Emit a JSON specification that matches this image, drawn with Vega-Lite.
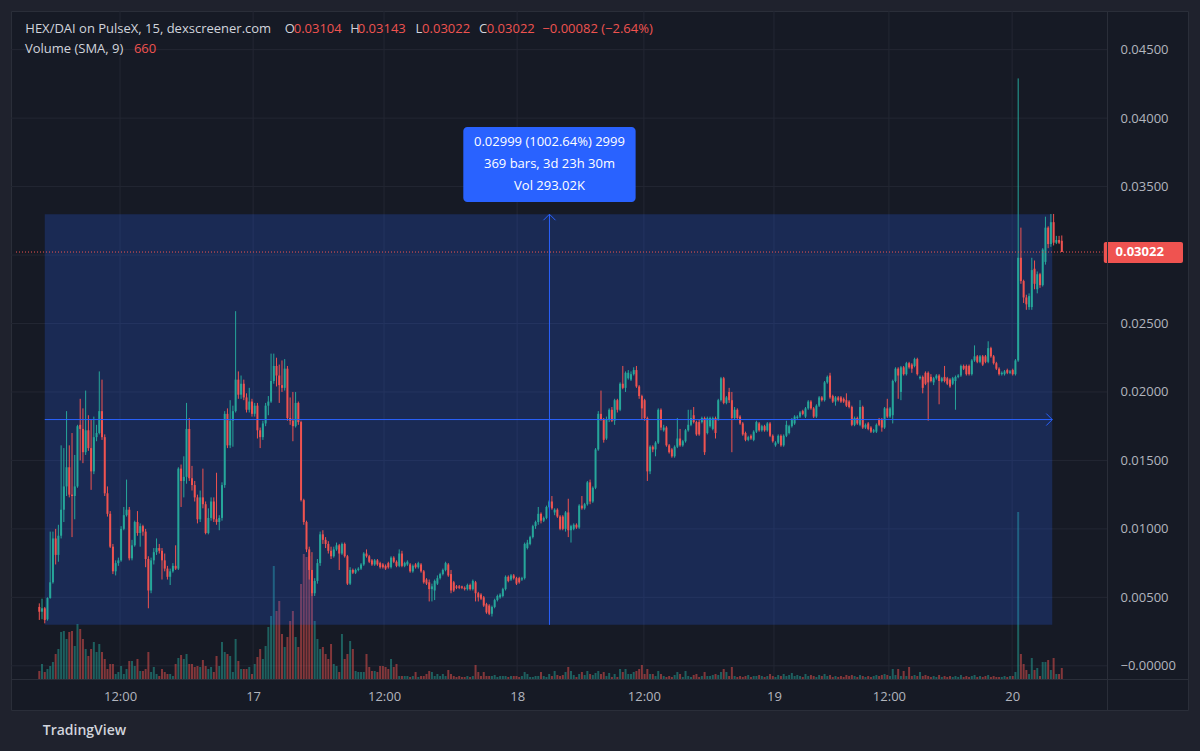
{
"$schema": "https://vega.github.io/schema/vega-lite/v6.json",
"width": 1177, "height": 699,
"autosize": {"type": "none"},
"padding": {"left": 11, "top": 11, "right": 12, "bottom": 41},
"background": "#1f222d",
"config": {"font": "Open Sans", "view": {"fill": "#161a25", "stroke": "#2a2e39", "strokeWidth": 1}, "text": {"font": "Open Sans"}},
"datasets": {"bars": [
{"i":0,"o":0.0043,"h":0.00456,"l":0.00335,"c":0.00395,"v":480},
{"i":1,"o":0.00395,"h":0.0049,"l":0.0034,"c":0.0042,"v":900},
{"i":2,"o":0.0042,"h":0.0043,"l":0.0031,"c":0.00335,"v":420},
{"i":3,"o":0.0034,"h":0.005,"l":0.0033,"c":0.00495,"v":600},
{"i":4,"o":0.00495,"h":0.0098,"l":0.0049,"c":0.0061,"v":780},
{"i":5,"o":0.0061,"h":0.0098,"l":0.006,"c":0.0093,"v":1020},
{"i":6,"o":0.0093,"h":0.01,"l":0.0074,"c":0.0081,"v":1500},
{"i":7,"o":0.0081,"h":0.0103,"l":0.0076,"c":0.0095,"v":1800},
{"i":8,"o":0.0095,"h":0.0161,"l":0.0093,"c":0.0114,"v":2820},
{"i":9,"o":0.0114,"h":0.0159,"l":0.0105,"c":0.0131,"v":2880},
{"i":10,"o":0.0131,"h":0.0186,"l":0.0124,"c":0.0145,"v":2400},
{"i":11,"o":0.0145,"h":0.0161,"l":0.0123,"c":0.0125,"v":2820},
{"i":12,"o":0.0125,"h":0.017,"l":0.0094,"c":0.0124,"v":2880},
{"i":13,"o":0.0124,"h":0.0154,"l":0.0107,"c":0.0131,"v":1980},
{"i":14,"o":0.0131,"h":0.0176,"l":0.013,"c":0.0175,"v":3300},
{"i":15,"o":0.0176,"h":0.0195,"l":0.015,"c":0.0173,"v":3000},
{"i":16,"o":0.0173,"h":0.0188,"l":0.0148,"c":0.0156,"v":2400},
{"i":17,"o":0.0156,"h":0.0201,"l":0.0154,"c":0.0172,"v":1800},
{"i":18,"o":0.0172,"h":0.0183,"l":0.0157,"c":0.0159,"v":1380},
{"i":19,"o":0.0159,"h":0.018,"l":0.01285,"c":0.0142,"v":1800},
{"i":20,"o":0.0142,"h":0.0182,"l":0.014,"c":0.0167,"v":2220},
{"i":21,"o":0.0167,"h":0.0176,"l":0.0164,"c":0.017,"v":1620},
{"i":22,"o":0.017,"h":0.0215,"l":0.0169,"c":0.0186,"v":2100},
{"i":23,"o":0.0186,"h":0.0209,"l":0.0165,"c":0.0167,"v":1620},
{"i":24,"o":0.0167,"h":0.0169,"l":0.0124,"c":0.0126,"v":1200},
{"i":25,"o":0.0126,"h":0.0131,"l":0.0109,"c":0.0111,"v":600},
{"i":26,"o":0.0111,"h":0.0113,"l":0.0086,"c":0.0087,"v":900},
{"i":27,"o":0.0087,"h":0.0089,"l":0.0067,"c":0.0069,"v":900},
{"i":28,"o":0.0069,"h":0.0077,"l":0.0066,"c":0.0075,"v":300},
{"i":29,"o":0.0075,"h":0.0079,"l":0.0073,"c":0.0077,"v":420},
{"i":30,"o":0.0077,"h":0.0102,"l":0.0076,"c":0.01,"v":780},
{"i":31,"o":0.01,"h":0.0116,"l":0.0099,"c":0.011,"v":300},
{"i":32,"o":0.011,"h":0.0136,"l":0.0109,"c":0.0114,"v":600},
{"i":33,"o":0.0114,"h":0.0116,"l":0.0077,"c":0.00785,"v":1080},
{"i":34,"o":0.00785,"h":0.0092,"l":0.0077,"c":0.0088,"v":1080},
{"i":35,"o":0.0088,"h":0.0106,"l":0.0087,"c":0.0105,"v":780},
{"i":36,"o":0.0105,"h":0.0113,"l":0.0095,"c":0.0097,"v":1200},
{"i":37,"o":0.0097,"h":0.0104,"l":0.0087,"c":0.0102,"v":480},
{"i":38,"o":0.0102,"h":0.0103,"l":0.0095,"c":0.0098,"v":480},
{"i":39,"o":0.0098,"h":0.01,"l":0.0072,"c":0.0078,"v":600},
{"i":40,"o":0.0078,"h":0.008,"l":0.0042,"c":0.0055,"v":1620},
{"i":41,"o":0.0055,"h":0.0079,"l":0.0053,"c":0.0077,"v":420},
{"i":42,"o":0.0077,"h":0.0086,"l":0.0074,"c":0.0083,"v":720},
{"i":43,"o":0.0083,"h":0.0093,"l":0.0081,"c":0.0086,"v":300},
{"i":44,"o":0.0086,"h":0.0089,"l":0.0082,"c":0.0084,"v":180},
{"i":45,"o":0.0084,"h":0.0086,"l":0.0063,"c":0.0077,"v":600},
{"i":46,"o":0.0077,"h":0.0082,"l":0.0069,"c":0.0071,"v":420},
{"i":47,"o":0.0071,"h":0.0073,"l":0.0063,"c":0.0065,"v":300},
{"i":48,"o":0.0065,"h":0.0071,"l":0.0059,"c":0.0069,"v":300},
{"i":49,"o":0.0069,"h":0.0075,"l":0.0068,"c":0.0073,"v":180},
{"i":50,"o":0.0073,"h":0.0088,"l":0.007,"c":0.0071,"v":900},
{"i":51,"o":0.0071,"h":0.0145,"l":0.007,"c":0.0144,"v":1260},
{"i":52,"o":0.0144,"h":0.0147,"l":0.0116,"c":0.0135,"v":1440},
{"i":53,"o":0.0135,"h":0.0153,"l":0.0123,"c":0.0138,"v":1200},
{"i":54,"o":0.0138,"h":0.0192,"l":0.0133,"c":0.0173,"v":1500},
{"i":55,"o":0.0173,"h":0.0181,"l":0.0135,"c":0.0137,"v":900},
{"i":56,"o":0.0137,"h":0.0146,"l":0.0128,"c":0.0132,"v":900},
{"i":57,"o":0.0132,"h":0.0135,"l":0.012,"c":0.0123,"v":720},
{"i":58,"o":0.0123,"h":0.0125,"l":0.0104,"c":0.0107,"v":780},
{"i":59,"o":0.0107,"h":0.0128,"l":0.0105,"c":0.0123,"v":720},
{"i":60,"o":0.0123,"h":0.0144,"l":0.0115,"c":0.0118,"v":1140},
{"i":61,"o":0.0118,"h":0.012,"l":0.0096,"c":0.0097,"v":780},
{"i":62,"o":0.0097,"h":0.0115,"l":0.0096,"c":0.0108,"v":600},
{"i":63,"o":0.0108,"h":0.0123,"l":0.0106,"c":0.012,"v":720},
{"i":64,"o":0.012,"h":0.0123,"l":0.0105,"c":0.0107,"v":420},
{"i":65,"o":0.0107,"h":0.0141,"l":0.0103,"c":0.0105,"v":1380},
{"i":66,"o":0.0105,"h":0.011,"l":0.0099,"c":0.0108,"v":780},
{"i":67,"o":0.0108,"h":0.0134,"l":0.0106,"c":0.0132,"v":2220},
{"i":68,"o":0.0132,"h":0.0186,"l":0.013,"c":0.0184,"v":1620},
{"i":69,"o":0.0184,"h":0.0188,"l":0.0159,"c":0.0161,"v":1500},
{"i":70,"o":0.0161,"h":0.0194,"l":0.0159,"c":0.0179,"v":1380},
{"i":71,"o":0.0179,"h":0.019,"l":0.016,"c":0.0186,"v":420},
{"i":72,"o":0.0186,"h":0.0259,"l":0.0185,"c":0.0209,"v":2400},
{"i":73,"o":0.0209,"h":0.0215,"l":0.0195,"c":0.0198,"v":1080},
{"i":74,"o":0.0198,"h":0.0212,"l":0.0195,"c":0.0206,"v":600},
{"i":75,"o":0.0206,"h":0.0209,"l":0.0194,"c":0.0196,"v":600},
{"i":76,"o":0.0196,"h":0.0199,"l":0.0185,"c":0.0187,"v":600},
{"i":77,"o":0.0187,"h":0.0203,"l":0.0185,"c":0.0193,"v":720},
{"i":78,"o":0.0193,"h":0.0195,"l":0.0182,"c":0.0184,"v":300},
{"i":79,"o":0.0184,"h":0.0192,"l":0.0182,"c":0.019,"v":900},
{"i":80,"o":0.019,"h":0.0192,"l":0.0166,"c":0.0172,"v":1320},
{"i":81,"o":0.0172,"h":0.0174,"l":0.0159,"c":0.0167,"v":1800},
{"i":82,"o":0.0167,"h":0.0179,"l":0.0165,"c":0.0177,"v":1200},
{"i":83,"o":0.0177,"h":0.0192,"l":0.0175,"c":0.019,"v":1980},
{"i":84,"o":0.019,"h":0.0197,"l":0.0183,"c":0.0193,"v":3120},
{"i":85,"o":0.0193,"h":0.0228,"l":0.0192,"c":0.0208,"v":3780},
{"i":86,"o":0.0208,"h":0.0228,"l":0.0206,"c":0.0219,"v":6780},
{"i":87,"o":0.0219,"h":0.0225,"l":0.0204,"c":0.0212,"v":4080},
{"i":88,"o":0.0212,"h":0.022,"l":0.0192,"c":0.0205,"v":4680},
{"i":89,"o":0.0205,"h":0.0223,"l":0.02,"c":0.0203,"v":2700},
{"i":90,"o":0.0203,"h":0.0224,"l":0.0201,"c":0.0217,"v":1920},
{"i":91,"o":0.0217,"h":0.0219,"l":0.0179,"c":0.0181,"v":2520},
{"i":92,"o":0.0181,"h":0.0196,"l":0.0176,"c":0.0179,"v":3480},
{"i":93,"o":0.0179,"h":0.02,"l":0.0164,"c":0.0175,"v":4080},
{"i":94,"o":0.0175,"h":0.02,"l":0.0174,"c":0.0192,"v":2520},
{"i":95,"o":0.0192,"h":0.0193,"l":0.0176,"c":0.0178,"v":1920},
{"i":96,"o":0.0178,"h":0.0179,"l":0.012,"c":0.0121,"v":5700},
{"i":97,"o":0.0121,"h":0.0122,"l":0.0103,"c":0.0105,"v":7500},
{"i":98,"o":0.0105,"h":0.0106,"l":0.0083,"c":0.0085,"v":7320},
{"i":99,"o":0.0085,"h":0.0087,"l":0.0063,"c":0.007,"v":7380},
{"i":100,"o":0.007,"h":0.0083,"l":0.0051,"c":0.0053,"v":5880},
{"i":101,"o":0.0053,"h":0.0064,"l":0.0051,"c":0.0062,"v":3480},
{"i":102,"o":0.0062,"h":0.0078,"l":0.006,"c":0.0075,"v":2400},
{"i":103,"o":0.0075,"h":0.0098,"l":0.0073,"c":0.0096,"v":1800},
{"i":104,"o":0.0096,"h":0.0099,"l":0.0089,"c":0.0092,"v":1920},
{"i":105,"o":0.0092,"h":0.0094,"l":0.0086,"c":0.0089,"v":1500},
{"i":106,"o":0.0089,"h":0.0091,"l":0.0082,"c":0.0084,"v":1200},
{"i":107,"o":0.0084,"h":0.0087,"l":0.0078,"c":0.008,"v":2100},
{"i":108,"o":0.008,"h":0.0087,"l":0.0079,"c":0.0085,"v":900},
{"i":109,"o":0.0085,"h":0.009,"l":0.0084,"c":0.0088,"v":780},
{"i":110,"o":0.0088,"h":0.0089,"l":0.007,"c":0.0082,"v":420},
{"i":111,"o":0.0082,"h":0.009,"l":0.0081,"c":0.0089,"v":2700},
{"i":112,"o":0.0089,"h":0.009,"l":0.0079,"c":0.008,"v":1200},
{"i":113,"o":0.008,"h":0.0081,"l":0.0059,"c":0.006,"v":1500},
{"i":114,"o":0.006,"h":0.0072,"l":0.0059,"c":0.007,"v":2280},
{"i":115,"o":0.007,"h":0.0071,"l":0.0067,"c":0.0068,"v":1800},
{"i":116,"o":0.0068,"h":0.0071,"l":0.0067,"c":0.007,"v":480},
{"i":117,"o":0.007,"h":0.0072,"l":0.0069,"c":0.0071,"v":420},
{"i":118,"o":0.0071,"h":0.0075,"l":0.007,"c":0.0074,"v":420},
{"i":119,"o":0.0074,"h":0.0083,"l":0.0073,"c":0.0082,"v":420},
{"i":120,"o":0.0082,"h":0.0085,"l":0.0079,"c":0.008,"v":1500},
{"i":121,"o":0.008,"h":0.0081,"l":0.0075,"c":0.0076,"v":720},
{"i":122,"o":0.0077,"h":0.0078,"l":0.0073,"c":0.0074,"v":480},
{"i":123,"o":0.0074,"h":0.0078,"l":0.0073,"c":0.0077,"v":480},
{"i":124,"o":0.0077,"h":0.0078,"l":0.0073,"c":0.0074,"v":420},
{"i":125,"o":0.0075,"h":0.0076,"l":0.0071,"c":0.0072,"v":780},
{"i":126,"o":0.0074,"h":0.0075,"l":0.0071,"c":0.0072,"v":780},
{"i":127,"o":0.0073,"h":0.0074,"l":0.007,"c":0.0071,"v":720},
{"i":128,"o":0.0075,"h":0.0076,"l":0.0071,"c":0.0072,"v":600},
{"i":129,"o":0.0072,"h":0.008,"l":0.0071,"c":0.0079,"v":1200},
{"i":130,"o":0.0079,"h":0.008,"l":0.0075,"c":0.0076,"v":720},
{"i":131,"o":0.0076,"h":0.0077,"l":0.0072,"c":0.0073,"v":900},
{"i":132,"o":0.0073,"h":0.0085,"l":0.0072,"c":0.0082,"v":180},
{"i":133,"o":0.0082,"h":0.0084,"l":0.0072,"c":0.0073,"v":180},
{"i":134,"o":0.0073,"h":0.0076,"l":0.0072,"c":0.0075,"v":180},
{"i":135,"o":0.0074,"h":0.0077,"l":0.0073,"c":0.0076,"v":180},
{"i":136,"o":0.0074,"h":0.0075,"l":0.0068,"c":0.0069,"v":120},
{"i":137,"o":0.0069,"h":0.0074,"l":0.0068,"c":0.0073,"v":180},
{"i":138,"o":0.0074,"h":0.0075,"l":0.0071,"c":0.0072,"v":420},
{"i":139,"o":0.0072,"h":0.0076,"l":0.0071,"c":0.0075,"v":120},
{"i":140,"o":0.0074,"h":0.0075,"l":0.0068,"c":0.0069,"v":180},
{"i":141,"o":0.0069,"h":0.007,"l":0.006,"c":0.0061,"v":180},
{"i":142,"o":0.0063,"h":0.0064,"l":0.0059,"c":0.006,"v":300},
{"i":143,"o":0.0061,"h":0.0063,"l":0.0047,"c":0.0056,"v":480},
{"i":144,"o":0.0056,"h":0.006,"l":0.0047,"c":0.0058,"v":420},
{"i":145,"o":0.0055,"h":0.0063,"l":0.0048,"c":0.0062,"v":180},
{"i":146,"o":0.006,"h":0.0066,"l":0.0059,"c":0.0064,"v":300},
{"i":147,"o":0.0064,"h":0.0068,"l":0.0063,"c":0.0067,"v":180},
{"i":148,"o":0.0067,"h":0.0071,"l":0.0066,"c":0.007,"v":300},
{"i":149,"o":0.007,"h":0.0076,"l":0.0069,"c":0.0075,"v":180},
{"i":150,"o":0.0074,"h":0.0075,"l":0.0065,"c":0.0066,"v":540},
{"i":151,"o":0.0067,"h":0.007,"l":0.0053,"c":0.0055,"v":300},
{"i":152,"o":0.0061,"h":0.0062,"l":0.0054,"c":0.0055,"v":180},
{"i":153,"o":0.0058,"h":0.0059,"l":0.0056,"c":0.0057,"v":120},
{"i":154,"o":0.0058,"h":0.0059,"l":0.0056,"c":0.0057,"v":180},
{"i":155,"o":0.0058,"h":0.00585,"l":0.0056,"c":0.0057,"v":120},
{"i":156,"o":0.0057,"h":0.0058,"l":0.0055,"c":0.0056,"v":120},
{"i":157,"o":0.0056,"h":0.006,"l":0.0055,"c":0.0059,"v":180},
{"i":158,"o":0.0059,"h":0.006,"l":0.0055,"c":0.0056,"v":120},
{"i":159,"o":0.0056,"h":0.0063,"l":0.0055,"c":0.0062,"v":180},
{"i":160,"o":0.0061,"h":0.0062,"l":0.0047,"c":0.0053,"v":840},
{"i":161,"o":0.0053,"h":0.0054,"l":0.0047,"c":0.005,"v":420},
{"i":162,"o":0.0052,"h":0.0053,"l":0.0048,"c":0.0049,"v":180},
{"i":163,"o":0.005,"h":0.0051,"l":0.0043,"c":0.0044,"v":420},
{"i":164,"o":0.0045,"h":0.0046,"l":0.0038,"c":0.0039,"v":180},
{"i":165,"o":0.0044,"h":0.0045,"l":0.0037,"c":0.0038,"v":180},
{"i":166,"o":0.0038,"h":0.0044,"l":0.0036,"c":0.0043,"v":180},
{"i":167,"o":0.0043,"h":0.0049,"l":0.0042,"c":0.0048,"v":240},
{"i":168,"o":0.0048,"h":0.0052,"l":0.0047,"c":0.0051,"v":120},
{"i":169,"o":0.005,"h":0.0053,"l":0.0049,"c":0.0052,"v":180},
{"i":170,"o":0.0051,"h":0.0057,"l":0.005,"c":0.0056,"v":180},
{"i":171,"o":0.0056,"h":0.0066,"l":0.0055,"c":0.0065,"v":180},
{"i":172,"o":0.0065,"h":0.0066,"l":0.0061,"c":0.0062,"v":120},
{"i":173,"o":0.0063,"h":0.0067,"l":0.0062,"c":0.0066,"v":180},
{"i":174,"o":0.0066,"h":0.0067,"l":0.0063,"c":0.0064,"v":180},
{"i":175,"o":0.0064,"h":0.0065,"l":0.0059,"c":0.006,"v":180},
{"i":176,"o":0.0064,"h":0.0065,"l":0.006,"c":0.0061,"v":120},
{"i":177,"o":0.0063,"h":0.0065,"l":0.0062,"c":0.0064,"v":180},
{"i":178,"o":0.0064,"h":0.009,"l":0.0063,"c":0.0089,"v":420},
{"i":179,"o":0.0086,"h":0.0092,"l":0.0085,"c":0.009,"v":300},
{"i":180,"o":0.0089,"h":0.0095,"l":0.0088,"c":0.0094,"v":120},
{"i":181,"o":0.0094,"h":0.0103,"l":0.0093,"c":0.0102,"v":120},
{"i":182,"o":0.0102,"h":0.0106,"l":0.01,"c":0.0105,"v":180},
{"i":183,"o":0.0105,"h":0.0116,"l":0.0103,"c":0.0111,"v":180},
{"i":184,"o":0.0111,"h":0.0112,"l":0.0104,"c":0.0106,"v":420},
{"i":185,"o":0.0106,"h":0.0109,"l":0.0105,"c":0.0108,"v":180},
{"i":186,"o":0.0108,"h":0.0117,"l":0.0107,"c":0.0116,"v":120},
{"i":187,"o":0.0116,"h":0.0121,"l":0.0115,"c":0.012,"v":300},
{"i":188,"o":0.012,"h":0.0124,"l":0.0114,"c":0.0115,"v":180},
{"i":189,"o":0.0112,"h":0.0115,"l":0.011,"c":0.0114,"v":480},
{"i":190,"o":0.0114,"h":0.0115,"l":0.0108,"c":0.0109,"v":240},
{"i":191,"o":0.0109,"h":0.011,"l":0.0099,"c":0.01,"v":180},
{"i":192,"o":0.0109,"h":0.011,"l":0.0099,"c":0.01,"v":240},
{"i":193,"o":0.01,"h":0.0113,"l":0.0098,"c":0.0112,"v":420},
{"i":194,"o":0.0112,"h":0.0122,"l":0.0094,"c":0.0099,"v":720},
{"i":195,"o":0.0099,"h":0.0103,"l":0.009,"c":0.0102,"v":480},
{"i":196,"o":0.01,"h":0.0104,"l":0.0099,"c":0.0103,"v":240},
{"i":197,"o":0.0103,"h":0.0104,"l":0.01,"c":0.0101,"v":120},
{"i":198,"o":0.0101,"h":0.0118,"l":0.01,"c":0.0117,"v":300},
{"i":199,"o":0.0117,"h":0.0124,"l":0.0114,"c":0.0115,"v":420},
{"i":200,"o":0.0115,"h":0.0119,"l":0.0114,"c":0.0118,"v":240},
{"i":201,"o":0.0118,"h":0.0135,"l":0.0117,"c":0.0134,"v":480},
{"i":202,"o":0.0134,"h":0.0136,"l":0.0118,"c":0.012,"v":300},
{"i":203,"o":0.012,"h":0.0131,"l":0.0119,"c":0.013,"v":240},
{"i":204,"o":0.013,"h":0.0159,"l":0.0129,"c":0.0158,"v":360},
{"i":205,"o":0.0158,"h":0.0186,"l":0.0157,"c":0.0184,"v":480},
{"i":206,"o":0.0184,"h":0.0201,"l":0.0179,"c":0.018,"v":300},
{"i":207,"o":0.018,"h":0.0181,"l":0.0163,"c":0.0165,"v":420},
{"i":208,"o":0.0166,"h":0.0182,"l":0.0165,"c":0.018,"v":180},
{"i":209,"o":0.018,"h":0.0188,"l":0.0178,"c":0.0187,"v":360},
{"i":210,"o":0.0187,"h":0.0189,"l":0.0178,"c":0.0179,"v":120},
{"i":211,"o":0.0179,"h":0.0195,"l":0.0176,"c":0.0194,"v":300},
{"i":212,"o":0.0194,"h":0.0195,"l":0.0185,"c":0.0187,"v":120},
{"i":213,"o":0.0187,"h":0.0207,"l":0.0186,"c":0.0206,"v":600},
{"i":214,"o":0.0206,"h":0.0219,"l":0.0202,"c":0.0203,"v":420},
{"i":215,"o":0.0203,"h":0.0215,"l":0.02,"c":0.0214,"v":600},
{"i":216,"o":0.021,"h":0.0216,"l":0.0209,"c":0.0214,"v":300},
{"i":217,"o":0.0209,"h":0.0215,"l":0.0208,"c":0.0213,"v":300},
{"i":218,"o":0.0213,"h":0.0218,"l":0.0212,"c":0.0216,"v":420},
{"i":219,"o":0.0216,"h":0.0219,"l":0.0203,"c":0.0204,"v":480},
{"i":220,"o":0.0204,"h":0.0205,"l":0.0195,"c":0.0197,"v":600},
{"i":221,"o":0.0197,"h":0.0198,"l":0.018,"c":0.0188,"v":840},
{"i":222,"o":0.0194,"h":0.0195,"l":0.0179,"c":0.0181,"v":300},
{"i":223,"o":0.0181,"h":0.0182,"l":0.0135,"c":0.0142,"v":600},
{"i":224,"o":0.0142,"h":0.0161,"l":0.014,"c":0.016,"v":300},
{"i":225,"o":0.016,"h":0.0161,"l":0.0156,"c":0.0158,"v":300},
{"i":226,"o":0.0158,"h":0.0164,"l":0.0153,"c":0.0163,"v":180},
{"i":227,"o":0.0163,"h":0.0188,"l":0.0162,"c":0.0187,"v":480},
{"i":228,"o":0.0187,"h":0.0188,"l":0.0172,"c":0.0174,"v":300},
{"i":229,"o":0.0172,"h":0.0176,"l":0.0171,"c":0.0174,"v":180},
{"i":230,"o":0.0174,"h":0.0175,"l":0.016,"c":0.0161,"v":120},
{"i":231,"o":0.0161,"h":0.0162,"l":0.0155,"c":0.0156,"v":180},
{"i":232,"o":0.0158,"h":0.0159,"l":0.0152,"c":0.0153,"v":120},
{"i":233,"o":0.0153,"h":0.0161,"l":0.0152,"c":0.016,"v":240},
{"i":234,"o":0.016,"h":0.0181,"l":0.0159,"c":0.0166,"v":420},
{"i":235,"o":0.0166,"h":0.0173,"l":0.016,"c":0.0161,"v":300},
{"i":236,"o":0.0161,"h":0.0165,"l":0.016,"c":0.0164,"v":120},
{"i":237,"o":0.0164,"h":0.0173,"l":0.0163,"c":0.0172,"v":480},
{"i":238,"o":0.0172,"h":0.0187,"l":0.0171,"c":0.0176,"v":180},
{"i":239,"o":0.0176,"h":0.0187,"l":0.0175,"c":0.0181,"v":120},
{"i":240,"o":0.0183,"h":0.0189,"l":0.0177,"c":0.0178,"v":240},
{"i":241,"o":0.0178,"h":0.0179,"l":0.0168,"c":0.0169,"v":300},
{"i":242,"o":0.0178,"h":0.018,"l":0.0168,"c":0.0169,"v":120},
{"i":243,"o":0.0178,"h":0.0182,"l":0.0177,"c":0.0181,"v":180},
{"i":244,"o":0.0181,"h":0.0182,"l":0.0154,"c":0.0156,"v":420},
{"i":245,"o":0.017,"h":0.0182,"l":0.0169,"c":0.0181,"v":180},
{"i":246,"o":0.0175,"h":0.0182,"l":0.0174,"c":0.0181,"v":180},
{"i":247,"o":0.0173,"h":0.0182,"l":0.0172,"c":0.0181,"v":240},
{"i":248,"o":0.0181,"h":0.0182,"l":0.0166,"c":0.017,"v":300},
{"i":249,"o":0.018,"h":0.0195,"l":0.0179,"c":0.0194,"v":240},
{"i":250,"o":0.0194,"h":0.0211,"l":0.0193,"c":0.021,"v":420},
{"i":251,"o":0.021,"h":0.0211,"l":0.0191,"c":0.0192,"v":600},
{"i":252,"o":0.0192,"h":0.0197,"l":0.0191,"c":0.0196,"v":420},
{"i":253,"o":0.02,"h":0.0203,"l":0.0192,"c":0.0194,"v":180},
{"i":254,"o":0.0194,"h":0.02,"l":0.0156,"c":0.0181,"v":720},
{"i":255,"o":0.0181,"h":0.0189,"l":0.018,"c":0.0187,"v":180},
{"i":256,"o":0.0187,"h":0.0188,"l":0.018,"c":0.0181,"v":120},
{"i":257,"o":0.0182,"h":0.0183,"l":0.0176,"c":0.0177,"v":180},
{"i":258,"o":0.0177,"h":0.0178,"l":0.0168,"c":0.0169,"v":120},
{"i":259,"o":0.017,"h":0.0171,"l":0.0164,"c":0.0165,"v":180},
{"i":260,"o":0.0165,"h":0.0168,"l":0.0164,"c":0.0167,"v":240},
{"i":261,"o":0.0168,"h":0.0169,"l":0.0165,"c":0.0166,"v":120},
{"i":262,"o":0.0165,"h":0.0172,"l":0.0164,"c":0.0171,"v":180},
{"i":263,"o":0.0171,"h":0.0179,"l":0.017,"c":0.0178,"v":180},
{"i":264,"o":0.0177,"h":0.0178,"l":0.0171,"c":0.0172,"v":240},
{"i":265,"o":0.0172,"h":0.0176,"l":0.0171,"c":0.0175,"v":180},
{"i":266,"o":0.0175,"h":0.0176,"l":0.0171,"c":0.0172,"v":120},
{"i":267,"o":0.0172,"h":0.0178,"l":0.0171,"c":0.0177,"v":180},
{"i":268,"o":0.0177,"h":0.0178,"l":0.0167,"c":0.0168,"v":300},
{"i":269,"o":0.0168,"h":0.0169,"l":0.0163,"c":0.0164,"v":180},
{"i":270,"o":0.0161,"h":0.0164,"l":0.016,"c":0.0163,"v":120},
{"i":271,"o":0.0163,"h":0.0169,"l":0.0162,"c":0.0168,"v":240},
{"i":272,"o":0.0168,"h":0.0169,"l":0.016,"c":0.0161,"v":180},
{"i":273,"o":0.0161,"h":0.0169,"l":0.016,"c":0.0168,"v":300},
{"i":274,"o":0.0168,"h":0.0179,"l":0.0167,"c":0.0176,"v":180},
{"i":275,"o":0.017,"h":0.0176,"l":0.0169,"c":0.0175,"v":240},
{"i":276,"o":0.0175,"h":0.0181,"l":0.0174,"c":0.018,"v":360},
{"i":277,"o":0.0177,"h":0.0183,"l":0.0176,"c":0.0182,"v":180},
{"i":278,"o":0.0181,"h":0.0183,"l":0.018,"c":0.0182,"v":240},
{"i":279,"o":0.0182,"h":0.0186,"l":0.0181,"c":0.0185,"v":180},
{"i":280,"o":0.0186,"h":0.0187,"l":0.0183,"c":0.0184,"v":120},
{"i":281,"o":0.0182,"h":0.0189,"l":0.0181,"c":0.0188,"v":300},
{"i":282,"o":0.0188,"h":0.0194,"l":0.0187,"c":0.0193,"v":180},
{"i":283,"o":0.0193,"h":0.0194,"l":0.0187,"c":0.0188,"v":240},
{"i":284,"o":0.0188,"h":0.0189,"l":0.0181,"c":0.0182,"v":180},
{"i":285,"o":0.0182,"h":0.0191,"l":0.0181,"c":0.019,"v":120},
{"i":286,"o":0.019,"h":0.0197,"l":0.0189,"c":0.0196,"v":240},
{"i":287,"o":0.0196,"h":0.0197,"l":0.0193,"c":0.0194,"v":180},
{"i":288,"o":0.0194,"h":0.0208,"l":0.0193,"c":0.0207,"v":300},
{"i":289,"o":0.0207,"h":0.0212,"l":0.0206,"c":0.0211,"v":180},
{"i":290,"o":0.0212,"h":0.0214,"l":0.0195,"c":0.0196,"v":240},
{"i":291,"o":0.0197,"h":0.0198,"l":0.0192,"c":0.0193,"v":120},
{"i":292,"o":0.0193,"h":0.0197,"l":0.019,"c":0.0196,"v":180},
{"i":293,"o":0.0196,"h":0.0197,"l":0.0193,"c":0.0194,"v":120},
{"i":294,"o":0.0196,"h":0.0197,"l":0.0192,"c":0.0193,"v":180},
{"i":295,"o":0.0195,"h":0.0196,"l":0.0192,"c":0.0193,"v":120},
{"i":296,"o":0.0194,"h":0.0199,"l":0.0189,"c":0.019,"v":240},
{"i":297,"o":0.0193,"h":0.0194,"l":0.0188,"c":0.0189,"v":180},
{"i":298,"o":0.0189,"h":0.019,"l":0.0175,"c":0.0176,"v":240},
{"i":299,"o":0.0176,"h":0.0182,"l":0.0175,"c":0.0181,"v":180},
{"i":300,"o":0.0181,"h":0.0182,"l":0.0176,"c":0.0177,"v":120},
{"i":301,"o":0.0176,"h":0.0194,"l":0.0175,"c":0.0189,"v":240},
{"i":302,"o":0.0189,"h":0.019,"l":0.0173,"c":0.0174,"v":180},
{"i":303,"o":0.0174,"h":0.0177,"l":0.0173,"c":0.0176,"v":120},
{"i":304,"o":0.0177,"h":0.0178,"l":0.0172,"c":0.0173,"v":180},
{"i":305,"o":0.0174,"h":0.0175,"l":0.017,"c":0.0171,"v":120},
{"i":306,"o":0.0171,"h":0.0173,"l":0.017,"c":0.0172,"v":180},
{"i":307,"o":0.0171,"h":0.0177,"l":0.017,"c":0.0176,"v":240},
{"i":308,"o":0.018,"h":0.0181,"l":0.0175,"c":0.0176,"v":180},
{"i":309,"o":0.018,"h":0.0181,"l":0.0171,"c":0.0174,"v":240},
{"i":310,"o":0.0174,"h":0.0189,"l":0.0173,"c":0.0188,"v":300},
{"i":311,"o":0.0188,"h":0.0195,"l":0.0181,"c":0.0182,"v":240},
{"i":312,"o":0.0182,"h":0.0189,"l":0.0181,"c":0.0188,"v":180},
{"i":313,"o":0.0183,"h":0.0209,"l":0.0177,"c":0.0208,"v":600},
{"i":314,"o":0.0208,"h":0.0218,"l":0.0207,"c":0.0217,"v":240},
{"i":315,"o":0.0217,"h":0.0218,"l":0.0195,"c":0.0212,"v":600},
{"i":316,"o":0.02,"h":0.0219,"l":0.0194,"c":0.0218,"v":180},
{"i":317,"o":0.0218,"h":0.0219,"l":0.0212,"c":0.0213,"v":480},
{"i":318,"o":0.0213,"h":0.0222,"l":0.0212,"c":0.0221,"v":180},
{"i":319,"o":0.0221,"h":0.0222,"l":0.0217,"c":0.0218,"v":720},
{"i":320,"o":0.022,"h":0.0221,"l":0.0214,"c":0.0217,"v":180},
{"i":321,"o":0.0219,"h":0.0225,"l":0.0218,"c":0.0224,"v":240},
{"i":322,"o":0.0224,"h":0.0225,"l":0.0212,"c":0.0213,"v":180},
{"i":323,"o":0.021,"h":0.0212,"l":0.0209,"c":0.0211,"v":420},
{"i":324,"o":0.0211,"h":0.0212,"l":0.0199,"c":0.0203,"v":180},
{"i":325,"o":0.0214,"h":0.0215,"l":0.0205,"c":0.0206,"v":240},
{"i":326,"o":0.0214,"h":0.0215,"l":0.0179,"c":0.0207,"v":180},
{"i":327,"o":0.0211,"h":0.0213,"l":0.0207,"c":0.0208,"v":120},
{"i":328,"o":0.0207,"h":0.0211,"l":0.0205,"c":0.021,"v":180},
{"i":329,"o":0.021,"h":0.0213,"l":0.0209,"c":0.0212,"v":120},
{"i":330,"o":0.0212,"h":0.0213,"l":0.0191,"c":0.0208,"v":240},
{"i":331,"o":0.0208,"h":0.0211,"l":0.0207,"c":0.021,"v":120},
{"i":332,"o":0.0211,"h":0.0219,"l":0.0207,"c":0.0208,"v":180},
{"i":333,"o":0.021,"h":0.0211,"l":0.0205,"c":0.0206,"v":120},
{"i":334,"o":0.0209,"h":0.021,"l":0.0203,"c":0.0204,"v":180},
{"i":335,"o":0.0206,"h":0.0211,"l":0.0205,"c":0.021,"v":120},
{"i":336,"o":0.0208,"h":0.0212,"l":0.0187,"c":0.0211,"v":180},
{"i":337,"o":0.0211,"h":0.0213,"l":0.021,"c":0.0212,"v":120},
{"i":338,"o":0.0212,"h":0.022,"l":0.0211,"c":0.0219,"v":240},
{"i":339,"o":0.0219,"h":0.022,"l":0.0216,"c":0.0217,"v":120},
{"i":340,"o":0.0219,"h":0.022,"l":0.0212,"c":0.0213,"v":180},
{"i":341,"o":0.0219,"h":0.022,"l":0.0212,"c":0.0213,"v":120},
{"i":342,"o":0.0213,"h":0.0224,"l":0.0212,"c":0.0223,"v":180},
{"i":343,"o":0.0223,"h":0.0234,"l":0.0222,"c":0.0226,"v":240},
{"i":344,"o":0.0226,"h":0.0227,"l":0.0221,"c":0.0222,"v":120},
{"i":345,"o":0.0222,"h":0.0227,"l":0.0221,"c":0.0226,"v":180},
{"i":346,"o":0.0226,"h":0.0227,"l":0.0219,"c":0.022,"v":120},
{"i":347,"o":0.0226,"h":0.0227,"l":0.0221,"c":0.0222,"v":180},
{"i":348,"o":0.0222,"h":0.0237,"l":0.0221,"c":0.0232,"v":240},
{"i":349,"o":0.0232,"h":0.0233,"l":0.0225,"c":0.0226,"v":120},
{"i":350,"o":0.0226,"h":0.0227,"l":0.022,"c":0.0221,"v":180},
{"i":351,"o":0.0221,"h":0.0222,"l":0.0216,"c":0.0217,"v":120},
{"i":352,"o":0.0217,"h":0.0218,"l":0.0212,"c":0.0213,"v":120},
{"i":353,"o":0.0213,"h":0.0215,"l":0.0212,"c":0.0214,"v":120},
{"i":354,"o":0.0213,"h":0.0216,"l":0.0212,"c":0.0215,"v":180},
{"i":355,"o":0.0216,"h":0.0217,"l":0.0213,"c":0.0214,"v":120},
{"i":356,"o":0.0214,"h":0.0216,"l":0.0213,"c":0.0215,"v":180},
{"i":357,"o":0.0216,"h":0.0217,"l":0.0212,"c":0.0213,"v":180},
{"i":358,"o":0.0213,"h":0.0224,"l":0.0212,"c":0.0223,"v":420},
{"i":359,"o":0.0223,"h":0.0429,"l":0.0222,"c":0.0298,"v":10020},
{"i":360,"o":0.0298,"h":0.032,"l":0.0279,"c":0.0281,"v":1500},
{"i":361,"o":0.0281,"h":0.0282,"l":0.0265,"c":0.0269,"v":900},
{"i":362,"o":0.0269,"h":0.0271,"l":0.026,"c":0.0264,"v":540},
{"i":363,"o":0.0262,"h":0.0272,"l":0.026,"c":0.027,"v":300},
{"i":364,"o":0.0262,"h":0.0298,"l":0.026,"c":0.0289,"v":1260},
{"i":365,"o":0.029,"h":0.0296,"l":0.0275,"c":0.0279,"v":540},
{"i":366,"o":0.0275,"h":0.0288,"l":0.0272,"c":0.0286,"v":660},
{"i":367,"o":0.0286,"h":0.0287,"l":0.0276,"c":0.0278,"v":180},
{"i":368,"o":0.0278,"h":0.0305,"l":0.0277,"c":0.0304,"v":1020},
{"i":369,"o":0.0295,"h":0.0328,"l":0.0293,"c":0.032,"v":1020},
{"i":370,"o":0.032,"h":0.0321,"l":0.0305,"c":0.0308,"v":1140},
{"i":371,"o":0.0308,"h":0.033,"l":0.0306,"c":0.0324,"v":540},
{"i":372,"o":0.0324,"h":0.033,"l":0.0307,"c":0.0309,"v":1260},
{"i":373,"o":0.0309,"h":0.0314,"l":0.0308,"c":0.0311,"v":300},
{"i":374,"o":0.0311,"h":0.0314,"l":0.0308,"c":0.0309,"v":300},
{"i":375,"o":0.03104,"h":0.03143,"l":0.03022,"c":0.03022,"v":660}
]},
"resolve": {"scale": {"x": "independent", "y": "independent"}},
"layer": [
 {"data": {"values": [{"p":0},{"p":0.005},{"p":0.01},{"p":0.015},{"p":0.02},{"p":0.025},{"p":0.03},{"p":0.035},{"p":0.04},{"p":0.045}]},
  "mark": {"type": "rule", "color": "#232733", "strokeWidth": 1},
  "encoding": {
   "y": {"field": "p", "type": "quantitative", "title": null, "scale": {"domain": [-0.003228, 0.047823], "nice": false, "zero": false},
     "axis": {"orient": "right", "offset": -81, "values": [0,0.005,0.01,0.015,0.02,0.025,0.035,0.04,0.045], "labelExpr": "datum.value == 0 ? '−0.00000' : format(datum.value, '.5f')", "ticks": false, "domain": true, "domainColor": "#2a2e39", "labelPadding": 13, "labelColor": "#b2b5be", "labelFontSize": 13, "labelFont": "Open Sans", "labelAlign": "left", "labelBaseline": "middle", "grid": false, "labelOverlap": false, "labelFlush": false, "zindex": 2}},
   "x": {"datum": -8.545, "type": "quantitative", "scale": {"domain": [-8.545, 419.45], "nice": false, "zero": false}, "axis": null},
   "x2": {"datum": 390.0}
  }},
 {"data": {"values": [{"t":31.1},{"t":79.5},{"t":127.1},{"t":175.5},{"t":221.6},{"t":268.9},{"t":310.7},{"t":355.5}]},
  "mark": {"type": "rule", "color": "#232733", "strokeWidth": 1},
  "encoding": {
   "x": {"field": "t", "type": "quantitative", "title": null, "scale": {"domain": [-8.545, 419.45], "nice": false, "zero": false},
     "axis": {"orient": "bottom", "offset": -31, "values": [31.1,79.5,127.1,175.5,221.6,268.9,310.7,355.5], "labelExpr": "datum.value == 79.5 ? '17' : datum.value == 175.5 ? '18' : datum.value == 268.9 ? '19' : datum.value == 355.5 ? '20' : '12:00'", "ticks": false, "domain": true, "domainColor": "#2a2e39", "labelPadding": 11, "labelColor": "#b2b5be", "labelFontSize": 13, "labelFont": "Open Sans", "grid": false, "labelOverlap": false, "labelFlush": false, "zindex": 2}},
   "y": {"datum": -0.000964, "type": "quantitative", "scale": {"domain": [-0.003228, 0.047823], "nice": false, "zero": false}, "axis": null},
   "y2": {"datum": 0.047823}
  }},
{"data": {"name": "bars"},
 "mark": {"type": "bar", "width": 2, "opacity": 0.5},
 "encoding": {
  "x": {"field": "i", "type": "quantitative", "scale": {"domain": [-8.545, 419.45], "nice": false, "zero": false}, "axis": null},
  "y": {"field": "v", "type": "quantitative", "scale": {"domain": [-1860, 40080], "nice": false, "zero": false}, "axis": null},
  "y2": {"datum": 0},
  "color": {"condition": {"test": "datum.c >= datum.o", "value": "#26a69a"}, "value": "#ef5350"}
 }},
{"layer": [
 {"data": {"values": [{}]},
  "mark": {"type": "rect", "fill": "#2962ff", "opacity": 0.22},
  "encoding": {
   "x": {"datum": 2, "type": "quantitative", "scale": {"domain": [-8.545, 419.45], "nice": false, "zero": false}, "axis": null},
   "x2": {"datum": 371.5},
   "y": {"datum": 0.00299, "type": "quantitative", "scale": {"domain": [-0.003228, 0.047823], "nice": false, "zero": false}, "axis": null},
   "y2": {"datum": 0.03298}
  }},
 {"data": {"name": "bars"},
  "mark": {"type": "rule", "strokeWidth": 1},
  "encoding": {
   "x": {"field": "i", "type": "quantitative", "axis": null},
   "y": {"field": "l", "type": "quantitative", "axis": null},
   "y2": {"field": "h"},
   "color": {"condition": {"test": "datum.c >= datum.o", "value": "#26a69a"}, "value": "#ef5350"}
  }},
 {"data": {"name": "bars"},
  "mark": {"type": "bar", "width": 2},
  "encoding": {
   "x": {"field": "i", "type": "quantitative", "axis": null},
   "y": {"field": "o", "type": "quantitative", "axis": null},
   "y2": {"field": "c"},
   "color": {"condition": {"test": "datum.c >= datum.o", "value": "#26a69a"}, "value": "#ef5350"}
  }},
 {"data": {"values": [{}]},
  "mark": {"type": "rule", "color": "#2962ff", "strokeWidth": 1},
  "encoding": {"x": {"datum": 2, "type": "quantitative", "axis": null}, "x2": {"datum": 371.5}, "y": {"datum": 0.017985, "type": "quantitative", "axis": null}}},
 {"data": {"values": [{}]},
  "mark": {"type": "rule", "color": "#2962ff", "strokeWidth": 1},
  "encoding": {"x": {"datum": 187.1, "type": "quantitative", "axis": null}, "y": {"datum": 0.00299, "type": "quantitative", "axis": null}, "y2": {"datum": 0.03298}}},
 {"data": {"values": [{}]},
  "mark": {"type": "point", "shape": "M-1,-1L0,0L-1,1", "size": 144, "filled": false, "stroke": "#2962ff", "strokeWidth": 1, "opacity": 1},
  "encoding": {"x": {"datum": 371.5, "type": "quantitative", "axis": null}, "y": {"datum": 0.017985, "type": "quantitative", "axis": null}}},
 {"data": {"values": [{}]},
  "mark": {"type": "point", "shape": "M-1,1L0,0L1,1", "size": 144, "filled": false, "stroke": "#2962ff", "strokeWidth": 1, "opacity": 1},
  "encoding": {"x": {"datum": 187.1, "type": "quantitative", "axis": null}, "y": {"datum": 0.03298, "type": "quantitative", "axis": null}}},
 {"data": {"values": [{}]},
  "mark": {"type": "rule", "color": "#ef5350", "strokeWidth": 1, "strokeDash": [1, 2]},
  "encoding": {"x": {"datum": -8.545, "type": "quantitative", "axis": null}, "x2": {"datum": 390.0}, "y": {"datum": 0.03022, "type": "quantitative", "axis": null}}},
 {"data": {"values": [{}]},
  "mark": {"type": "rect", "fill": "#2962ff", "cornerRadius": 4},
  "encoding": {"x": {"datum": 155.5, "type": "quantitative", "axis": null}, "x2": {"datum": 218.7}, "y": {"datum": 0.03387, "type": "quantitative", "axis": null}, "y2": {"datum": 0.03935}}},
 {"data": {"values": [{}]},
  "mark": {"type": "text", "text": "0.02999 (1002.64%) 2999", "color": "#ffffff", "fontSize": 13, "align": "center", "baseline": "middle"},
  "encoding": {"x": {"datum": 187.1, "type": "quantitative", "axis": null}, "y": {"datum": 0.03825, "type": "quantitative", "axis": null}}},
 {"data": {"values": [{}]},
  "mark": {"type": "text", "text": "369 bars, 3d 23h 30m", "color": "#ffffff", "fontSize": 13, "align": "center", "baseline": "middle"},
  "encoding": {"x": {"datum": 187.1, "type": "quantitative", "axis": null}, "y": {"datum": 0.03664, "type": "quantitative", "axis": null}}},
 {"data": {"values": [{}]},
  "mark": {"type": "text", "text": "Vol 293.02K", "color": "#ffffff", "fontSize": 13, "align": "center", "baseline": "middle"},
  "encoding": {"x": {"datum": 187.1, "type": "quantitative", "axis": null}, "y": {"datum": 0.03503, "type": "quantitative", "axis": null}}},
 {"data": {"values": [{}]},
  "mark": {"type": "rect", "fill": "#ef5350", "cornerRadius": 2},
  "encoding": {"x": {"datum": 390.4, "type": "quantitative", "axis": null}, "x2": {"datum": 419.45}, "y": {"datum": 0.02942, "type": "quantitative", "axis": null}, "y2": {"datum": 0.03095}}},
 {"data": {"values": [{}]},
  "mark": {"type": "text", "text": "0.03022", "color": "#ffffff", "fontSize": 13, "fontWeight": "bold", "align": "left", "baseline": "middle"},
  "encoding": {"x": {"datum": 394.7, "type": "quantitative", "axis": null}, "y": {"datum": 0.03022, "type": "quantitative", "axis": null}}},
 {"data": {"values": [{}]},
  "mark": {"type": "text", "text": "HEX/DAI on PulseX, 15, dexscreener.com", "color": "#d1d4dc", "fontSize": 13, "align": "left", "baseline": "middle"},
  "encoding": {"x": {"datum": -5.13, "type": "quantitative", "axis": null}, "y": {"datum": 0.046472, "type": "quantitative", "axis": null}}},
 {"data": {"values": [{}]},
  "mark": {"type": "text", "text": "O", "color": "#d1d4dc", "fontSize": 13, "align": "left", "baseline": "middle"},
  "encoding": {"x": {"datum": 90.0, "type": "quantitative", "axis": null}, "y": {"datum": 0.046472, "type": "quantitative", "axis": null}}},
 {"data": {"values": [{}]},
  "mark": {"type": "text", "text": "0.03104", "color": "#ef5350", "fontSize": 13, "align": "left", "baseline": "middle"},
  "encoding": {"x": {"datum": 93.3, "type": "quantitative", "axis": null}, "y": {"datum": 0.046472, "type": "quantitative", "axis": null}}},
 {"data": {"values": [{}]},
  "mark": {"type": "text", "text": "H", "color": "#d1d4dc", "fontSize": 13, "align": "left", "baseline": "middle"},
  "encoding": {"x": {"datum": 114.0, "type": "quantitative", "axis": null}, "y": {"datum": 0.046472, "type": "quantitative", "axis": null}}},
 {"data": {"values": [{}]},
  "mark": {"type": "text", "text": "0.03143", "color": "#ef5350", "fontSize": 13, "align": "left", "baseline": "middle"},
  "encoding": {"x": {"datum": 116.8, "type": "quantitative", "axis": null}, "y": {"datum": 0.046472, "type": "quantitative", "axis": null}}},
 {"data": {"values": [{}]},
  "mark": {"type": "text", "text": "L", "color": "#d1d4dc", "fontSize": 13, "align": "left", "baseline": "middle"},
  "encoding": {"x": {"datum": 138.0, "type": "quantitative", "axis": null}, "y": {"datum": 0.046472, "type": "quantitative", "axis": null}}},
 {"data": {"values": [{}]},
  "mark": {"type": "text", "text": "0.03022", "color": "#ef5350", "fontSize": 13, "align": "left", "baseline": "middle"},
  "encoding": {"x": {"datum": 140.4, "type": "quantitative", "axis": null}, "y": {"datum": 0.046472, "type": "quantitative", "axis": null}}},
 {"data": {"values": [{}]},
  "mark": {"type": "text", "text": "C", "color": "#d1d4dc", "fontSize": 13, "align": "left", "baseline": "middle"},
  "encoding": {"x": {"datum": 161.3, "type": "quantitative", "axis": null}, "y": {"datum": 0.046472, "type": "quantitative", "axis": null}}},
 {"data": {"values": [{}]},
  "mark": {"type": "text", "text": "0.03022", "color": "#ef5350", "fontSize": 13, "align": "left", "baseline": "middle"},
  "encoding": {"x": {"datum": 164.1, "type": "quantitative", "axis": null}, "y": {"datum": 0.046472, "type": "quantitative", "axis": null}}},
 {"data": {"values": [{}]},
  "mark": {"type": "text", "text": "−0.00082 (−2.64%)", "color": "#ef5350", "fontSize": 13, "align": "left", "baseline": "middle"},
  "encoding": {"x": {"datum": 184.5, "type": "quantitative", "axis": null}, "y": {"datum": 0.046472, "type": "quantitative", "axis": null}}},
 {"data": {"values": [{}]},
  "mark": {"type": "text", "text": "Volume (SMA, 9)", "color": "#d1d4dc", "fontSize": 13, "align": "left", "baseline": "middle"},
  "encoding": {"x": {"datum": -5.27, "type": "quantitative", "axis": null}, "y": {"datum": 0.045048, "type": "quantitative", "axis": null}}},
 {"data": {"values": [{}]},
  "mark": {"type": "text", "text": "660", "color": "#ef5350", "fontSize": 13, "align": "left", "baseline": "middle"},
  "encoding": {"x": {"datum": 34.7, "type": "quantitative", "axis": null}, "y": {"datum": 0.045048, "type": "quantitative", "axis": null}}},
 {"data": {"values": [{}]},
  "mark": {"type": "text", "text": "TradingView", "color": "#d1d4dc", "fontSize": 14, "fontWeight": 600, "align": "left", "baseline": "middle"},
  "encoding": {"x": {"datum": 1.27, "type": "quantitative", "axis": null}, "y": {"datum": -0.004762, "type": "quantitative", "scale": {"domain": [-0.003228, 0.047823], "nice": false, "zero": false}, "axis": null}}}
]}
]
}
